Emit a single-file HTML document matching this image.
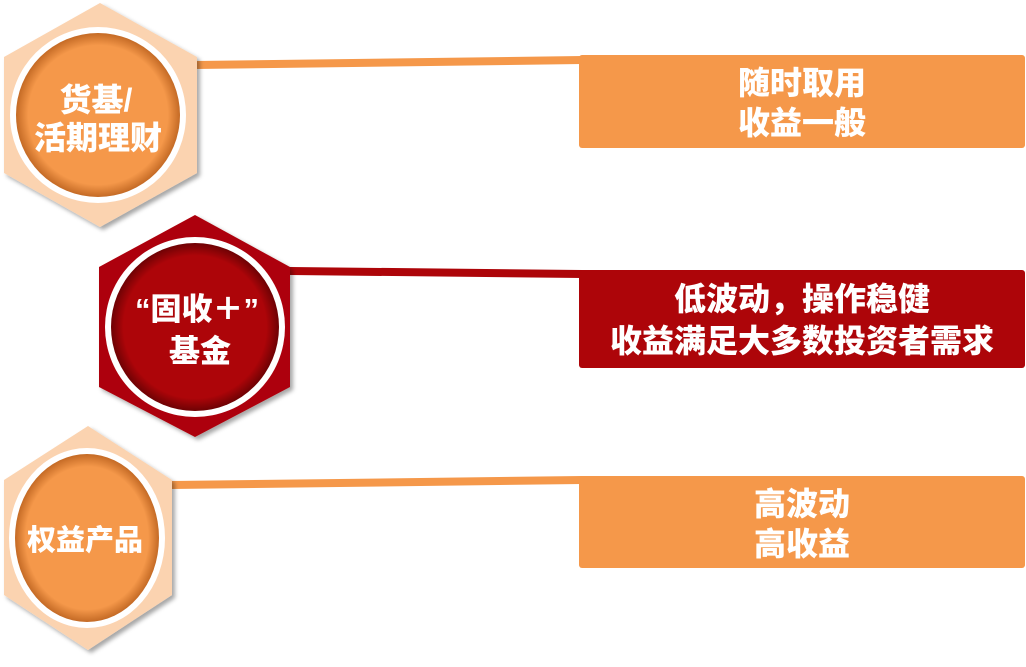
<!DOCTYPE html>
<html><head><meta charset="utf-8"><style>
html,body{margin:0;padding:0;background:#fff;}
svg text{font-family:"Liberation Sans","Noto Sans CJK SC",sans-serif;font-weight:900;fill:#fff;}
</style></head><body>
<svg width="1026" height="662" viewBox="0 0 1026 662" xmlns="http://www.w3.org/2000/svg">
<defs>
<filter id="sh" x="-20%" y="-20%" width="140%" height="140%"><feDropShadow dx="3" dy="3" stdDeviation="2" flood-color="#000" flood-opacity="0.35"/></filter>
<radialGradient id="go" cx="50%" cy="50%" r="50%"><stop offset="85%" stop-color="#f5984a"/><stop offset="100%" stop-color="#c46a25"/></radialGradient>
<radialGradient id="gr" cx="50%" cy="50%" r="50%"><stop offset="85%" stop-color="#ad0509"/><stop offset="100%" stop-color="#6e0204"/></radialGradient>
</defs>
<polygon points="196,61 582,56 582,64 196,69" fill="#f5984a"/>
<polygon points="290,267 582,270 582,278 290,275" fill="#ad0509"/>
<polygon points="172,481 582,476 582,484 172,489" fill="#f5984a"/>
<rect x="579" y="55" width="446" height="93" rx="3" fill="#f5984a"/>
<rect x="579" y="270" width="446" height="98" rx="3" fill="#ad0509"/>
<rect x="579" y="476" width="446" height="92" rx="3" fill="#f5984a"/>
<text x="802" y="94" font-size="32" text-anchor="middle">随时取用</text>
<text x="802" y="134" font-size="32" text-anchor="middle">收益一般</text>
<text x="802" y="310" font-size="32" text-anchor="middle">低波动，操作稳健</text>
<text x="802" y="352" font-size="32" text-anchor="middle">收益满足大多数投资者需求</text>
<text x="802" y="515" font-size="32" text-anchor="middle">高波动</text>
<text x="802" y="555" font-size="32" text-anchor="middle">高收益</text>
<polygon points="100,3 197,57 197,173 100,227 4,173 4,57" fill="#fbd3b0" filter="url(#sh)"/>
<circle cx="98" cy="115" r="88" fill="#fff"/>
<circle cx="98" cy="115" r="82" fill="url(#go)"/>
<text x="96" y="111" font-size="32" text-anchor="middle">货基/</text>
<text x="98" y="149" font-size="32" text-anchor="middle">活期理财</text>
<polygon points="195,215 290,267 290,387 195,437 99,387 99,267" fill="#ad0509" filter="url(#sh)"/>
<circle cx="195" cy="327" r="90" fill="#fff"/>
<circle cx="195" cy="327" r="84" fill="url(#gr)"/>
<text x="197" y="320" font-size="31" text-anchor="middle">“固收＋”</text>
<text x="200" y="362" font-size="31" text-anchor="middle">基金</text>
<polygon points="88,426 172,480 172,595 88,650 4,595 4,480" fill="#fbd3b0" filter="url(#sh)"/>
<ellipse cx="87" cy="538" rx="78" ry="90" fill="#fff"/>
<ellipse cx="87" cy="538" rx="72" ry="84" fill="url(#go)"/>
<text x="85" y="550" font-size="29" text-anchor="middle">权益产品</text>
</svg>
</body></html>
